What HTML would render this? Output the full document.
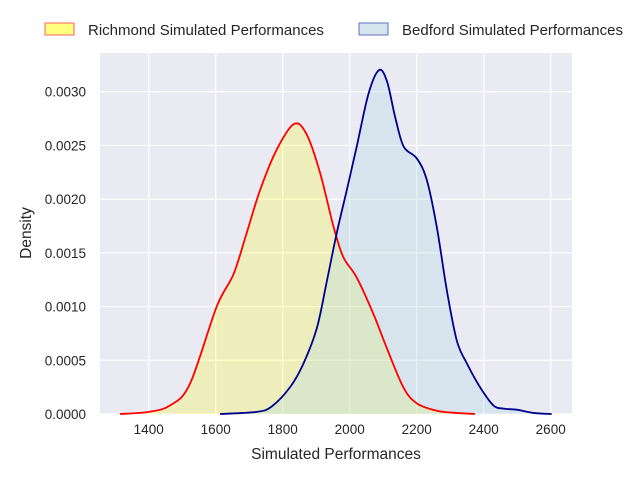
<!DOCTYPE html>
<html><head><meta charset="utf-8"><style>
body{margin:0;background:#fff;font-family:"Liberation Sans",sans-serif}
svg text{font-family:"Liberation Sans",sans-serif;fill:#262626}
</style></head><body>
<svg width="640" height="480" id="c">
<rect x="100" y="53" width="472" height="361" fill="#eaeaf2"/>
<g id="grid"></g><g id="fills"></g><g id="lines"></g><g id="ticks"></g>
<text x="336" y="459" font-size="15.5" text-anchor="middle">Simulated Performances</text>
<text x="31" y="233" font-size="15.5" text-anchor="middle" transform="rotate(-90 31 233)">Density</text>
<g>
<g><rect x="45" y="23" width="29" height="12" fill="#ffff80" stroke="#ff6060" stroke-width="1"/><text x="88" y="35" font-size="15">Richmond Simulated Performances</text></g>
<g><rect x="359" y="23" width="29" height="12" fill="#d5e6ee" stroke="#6070c0" stroke-width="1"/><text x="402" y="35" font-size="15">Bedford Simulated Performances</text></g>
</g>
</svg>
<script>
const xTicks=[1400,1600,1800,2000,2200,2400,2600];
const yTicks=[0,0.0005,0.001,0.0015,0.002,0.0025,0.003];
const yTickLabels=["0.0000","0.0005","0.0010","0.0015","0.0020","0.0025","0.0030"];
const richX=[1314,1400,1464,1523,1603,1653,1692,1732,1782,1834,1872,1912,1952,1981,2021,2071,2110,2160,2200,2260,2319,2374];
const richY=[0,0.00002,0.00008,0.00028,0.001,0.0013,0.00168,0.00208,0.00246,0.0027,0.0026,0.00224,0.00174,0.00146,0.00127,0.00093,0.00062,0.00025,0.0001,0.00003,0.00001,0];
const bedX=[1613,1722,1767,1822,1862,1902,1932,1961,1991,2021,2056,2087,2111,2136,2161,2200,2230,2260,2290,2320,2350,2389,2429,2459,2499,2548,2603];
const bedY=[0,0.00002,0.00007,0.00025,0.00047,0.0008,0.00124,0.00168,0.00208,0.00249,0.00298,0.0032,0.0031,0.00276,0.00249,0.00238,0.00218,0.00174,0.00115,0.00068,0.00047,0.00025,0.00008,0.00005,0.00004,0.00001,0];
const sx=v=>148.7+(v-1400)*(402/1200);
const sy=v=>414-v*(322.3/0.003);
const NS="http://www.w3.org/2000/svg";
function mk(t,a,p){const e=document.createElementNS(NS,t);for(const k in a)e.setAttribute(k,a[k]);p.appendChild(e);return e;}
const grid=document.getElementById('grid'),ticks=document.getElementById('ticks'),fills=document.getElementById('fills'),lines=document.getElementById('lines');
xTicks.forEach(v=>{
 const l=mk('line',{x1:sx(v),x2:sx(v),y1:53,y2:414,stroke:'#fff','stroke-width':1.2},grid);
 
 
 const t=mk('text',{x:sx(v),y:434,'font-size':13.5,'text-anchor':'middle'},ticks);t.textContent=v;
 
 
});
yTicks.forEach((v,i)=>{
 const l=mk('line',{x1:100,x2:572,y1:sy(v),y2:sy(v),stroke:'#fff','stroke-width':1.2},grid);
 
 
 const t=mk('text',{x:86,y:sy(v)+5,'font-size':13.5,'text-anchor':'end'},ticks);t.textContent=yTickLabels[i];
 
 
});
function path(xs,ys){
 const p=xs.map((x,i)=>[sx(x),sy(ys[i])]);
 let d='M'+p[0][0]+','+p[0][1];
 for(let i=0;i<p.length-1;i++){
  const p0=p[Math.max(0,i-1)],p1=p[i],p2=p[i+1],p3=p[Math.min(p.length-1,i+2)];
  const c1=[p1[0]+(p2[0]-p0[0])/6,p1[1]+(p2[1]-p0[1])/6],c2=[p2[0]-(p3[0]-p1[0])/6,p2[1]-(p3[1]-p1[1])/6];
  d+=` C${c1[0]},${c1[1]} ${c2[0]},${c2[1]} ${p2[0]},${p2[1]}`;
 }
 return d;
}
function series(xs,ys,fill,op,stroke,name){
 const d=path(xs,ys);
 const f=mk('path',{d:d+`L${sx(xs[xs.length-1])},414L${sx(xs[0])},414Z`,fill:fill,'fill-opacity':op},fills);
 
 
 const l=mk('path',{d:d,fill:'none',stroke:stroke,'stroke-width':1.8},lines);
 
 
}
series(richX,richY,'#ffff00',0.22,'#ff0000','richmond-density');
series(bedX,bedY,'#add8e6',0.3,'#00008b','bedford-density');
</script>
</body></html>
